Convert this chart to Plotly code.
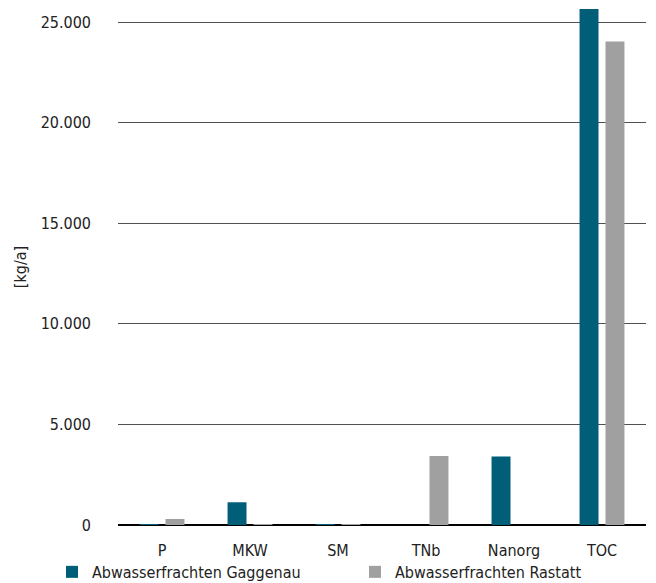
import plotly.graph_objects as go

categories = ["P", "MKW", "SM", "TNb", "Nanorg", "TOC"]
gaggenau = [30, 1130, 10, 0, 3410, 25650]
rastatt = [300, 20, 10, 3430, 0, 24030]
y_ticks = [0, 5000, 10000, 15000, 20000, 25000]
y_tick_labels = ["0", "5.000", "10.000", "15.000", "20.000", "25.000"]

FONT = "DejaVu Sans Condensed, Arial, sans-serif"

fig = go.Figure()
fig.add_trace(go.Bar(name="Abwasserfrachten Gaggenau", x=categories, y=gaggenau,
                     marker=dict(color="#005e78", line=dict(width=0))))
fig.add_trace(go.Bar(name="Abwasserfrachten Rastatt", x=categories, y=rastatt,
                     marker=dict(color="#a0a0a0", line=dict(width=0))))

fig.update_layout(
    width=656, height=583,
    margin=dict(l=118, r=10, t=9, b=58, autoexpand=False),
    paper_bgcolor="white", plot_bgcolor="white",
    barmode="group", bargap=0.41, bargroupgap=0.27,
    font=dict(family=FONT, size=16, color="#222222"),
    showlegend=True,
    legend=dict(orientation="h", x=-0.125, xanchor="left", y=-0.091, yanchor="middle",
                bgcolor="rgba(0,0,0,0)",
                font=dict(size=16, color="#222222"), entrywidth=258,
                itemwidth=30, traceorder="normal", tracegroupgap=0),
    xaxis=dict(showgrid=False, showline=False, ticks="", ticklen=0,
               ticklabelstandoff=14, tickfont=dict(size=16)),
    yaxis=dict(range=[0, 25650], tickvals=y_ticks, ticktext=y_tick_labels,
               showgrid=True, gridcolor="#505050", gridwidth=1,
               zeroline=True, zerolinecolor="#000000", zerolinewidth=2,
               showline=False, ticks="", ticklabelstandoff=26,
               tickfont=dict(size=16),
               title=dict(text="[kg/a]", font=dict(size=16), standoff=10)),
)

fig.write_html("out.html")
